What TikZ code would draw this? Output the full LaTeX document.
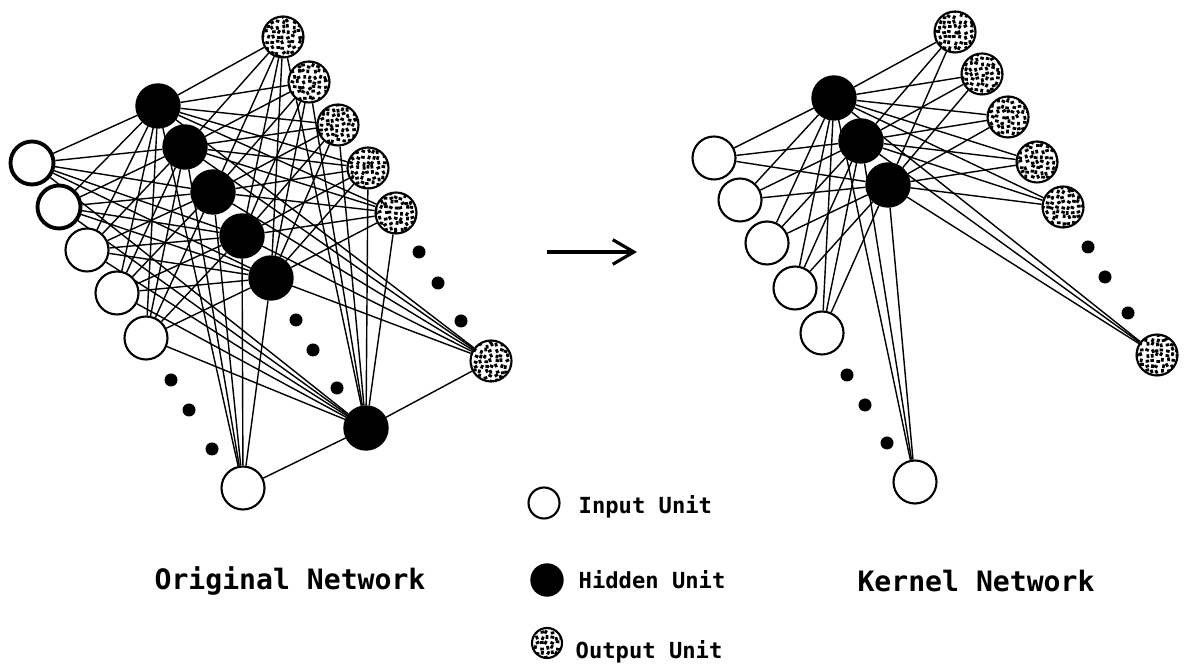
\documentclass[tikz,border=0pt]{standalone}
\usepackage{fontspec}
\newfontfamily\unitfont{DejaVu Sans Mono}
\usetikzlibrary{calc,arrows.meta,backgrounds}

\begin{document}
\begin{tikzpicture}[
        inunit/.style = {draw, circle, fill=white, line width=0.6pt, minimum size=0.43cm, inner sep=0pt},
        thickin/.style = {inunit, line width=1.1pt},
        hidunit/.style = {draw, circle, fill=black, minimum size=0.44cm, inner sep=0pt},
        outunit/.style = {draw, circle, fill=white, line width=0.6pt, minimum size=0.41cm, inner sep=0pt,
            path picture={
                \foreach \i in {-4,...,4}
                \foreach \j in {-4,...,4} {
                    \pgfmathsetmacro\dx{\i*0.052+0.014*rand}
                    \pgfmathsetmacro\dy{\j*0.052+0.014*rand}
                    \pgfmathsetmacro\ang{90*random(0,1)+30*rand}
                    \draw[line width=0.8pt] ($(path picture bounding box.center)+(\dx,\dy)$)
                        ++(\ang:-0.018) -- ++(\ang:0.036);
                }
            }},
        edge/.style = {line width=0.4pt},
        ellip/.style = {circle, fill=black, minimum size=0.13cm, inner sep=0pt},
        arrow/.style = {-{Straight Barb[length=6pt,width=7pt]}, line width=0.9pt},
        title/.style = {font=\unitfont\bfseries\fontsize{8}{10}\selectfont},
        legend/.style = {font=\unitfont\bfseries\fontsize{6.3}{8}\selectfont, anchor=west, inner sep=0pt}
    ]
    \pgfmathsetseed{17}
    \useasboundingbox (0,0) rectangle (12.02,-6.71);

    % Original network: output units
    \node[outunit] (oout1) at (2.83,-0.37) {};
    \node[outunit] (oout2) at (3.09,-0.82) {};
    \node[outunit] (oout3) at (3.38,-1.25) {};
    \node[outunit] (oout4) at (3.68,-1.68) {};
    \node[outunit] (oout5) at (3.96,-2.13) {};
    \node[outunit] (oout6) at (4.91,-3.61) {};

    % Original network: hidden units
    \node[hidunit] (ohid1) at (1.58,-1.06) {};
    \node[hidunit] (ohid2) at (1.85,-1.47) {};
    \node[hidunit] (ohid3) at (2.13,-1.92) {};
    \node[hidunit] (ohid4) at (2.42,-2.36) {};
    \node[hidunit] (ohid5) at (2.71,-2.78) {};
    \node[hidunit] (ohid6) at (3.66,-4.28) {};

    % Original network: input units
    \node[thickin] (oin1) at (0.32,-1.63) {};
    \node[thickin] (oin2) at (0.59,-2.07) {};
    \node[inunit] (oin3) at (0.87,-2.50) {};
    \node[inunit] (oin4) at (1.17,-2.93) {};
    \node[inunit] (oin5) at (1.46,-3.38) {};
    \node[inunit] (oin6) at (2.43,-4.88) {};

    % Original network: connections (behind the units)
    \begin{pgfonlayer}{background}
    \foreach \a in {1,...,6}
    \foreach \b in {1,...,6} {
        \draw[edge] (oin\a) -- (ohid\b);
        \draw[edge] (ohid\a) -- (oout\b);
    }
    \end{pgfonlayer}

    % Original network: ellipses
    \node[ellip] (odin1) at (1.71,-3.80) {};
    \node[ellip] (odin2) at (1.89,-4.10) {};
    \node[ellip] (odin3) at (2.12,-4.49) {};
    \node[ellip] (odhid1) at (2.96,-3.20) {};
    \node[ellip] (odhid2) at (3.13,-3.50) {};
    \node[ellip] (odhid3) at (3.37,-3.88) {};
    \node[ellip] (odout1) at (4.19,-2.52) {};
    \node[ellip] (odout2) at (4.38,-2.83) {};
    \node[ellip] (odout3) at (4.61,-3.21) {};

    % Kernel network: output units
    \node[outunit] (kout1) at (9.55,-0.32) {};
    \node[outunit] (kout2) at (9.82,-0.74) {};
    \node[outunit] (kout3) at (10.08,-1.17) {};
    \node[outunit] (kout4) at (10.37,-1.62) {};
    \node[outunit] (kout5) at (10.63,-2.07) {};
    \node[outunit] (kout6) at (11.57,-3.55) {};

    % Kernel network: hidden units
    \node[hidunit] (khid1) at (8.34,-0.98) {};
    \node[hidunit] (khid2) at (8.61,-1.41) {};
    \node[hidunit] (khid3) at (8.88,-1.85) {};

    % Kernel network: input units
    \node[inunit] (kin1) at (7.14,-1.58) {};
    \node[inunit] (kin2) at (7.40,-2.00) {};
    \node[inunit] (kin3) at (7.67,-2.43) {};
    \node[inunit] (kin4) at (7.95,-2.88) {};
    \node[inunit] (kin5) at (8.22,-3.33) {};
    \node[inunit] (kin6) at (9.15,-4.82) {};

    % Kernel network: connections (behind the units)
    \begin{pgfonlayer}{background}
    \foreach \a in {1,...,6}
    \foreach \b in {1,...,3} {
        \draw[edge] (kin\a) -- (khid\b);
        \draw[edge] (khid\b) -- (kout\a);
    }
    \end{pgfonlayer}

    % Kernel network: ellipses
    \node[ellip] (kdin1) at (8.47,-3.75) {};
    \node[ellip] (kdin2) at (8.65,-4.05) {};
    \node[ellip] (kdin3) at (8.87,-4.43) {};
    \node[ellip] (kdout1) at (10.88,-2.47) {};
    \node[ellip] (kdout2) at (11.05,-2.77) {};
    \node[ellip] (kdout3) at (11.28,-3.13) {};

    % Arrow between the two networks
    \coordinate (afrom) at (5.47,-2.52);
    \coordinate (ato) at (6.37,-2.52);
    \draw[arrow] (afrom) -- (ato);

    % Titles
    \node[title] (otitle) at (2.90,-5.81) {Original Network};
    \node[title] (ktitle) at (9.76,-5.81) {Kernel Network};

    % Legend
    \node[inunit, minimum size=0.31cm] (lin) at (5.44,-5.03) {};
    \node[hidunit, minimum size=0.32cm] (lhid) at (5.47,-5.80) {};
    \node[outunit, minimum size=0.30cm] (lout) at (5.47,-6.43) {};
    \node[legend] (tin) at (5.78,-5.07) {Input Unit};
    \node[legend] (thid) at (5.78,-5.80) {Hidden Unit};
    \node[legend] (tout) at (5.75,-6.52) {Output Unit};

\end{tikzpicture}
\end{document}
